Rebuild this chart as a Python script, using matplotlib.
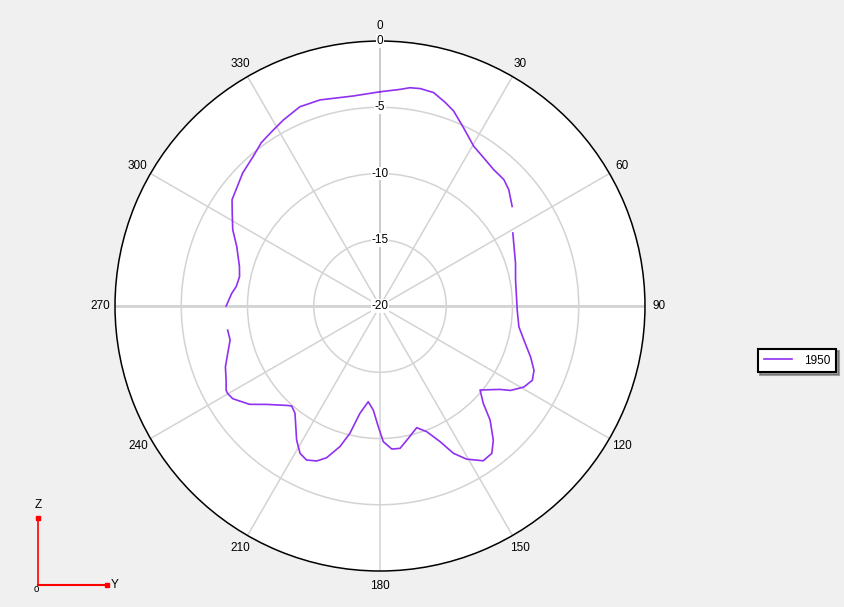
import numpy as np
import matplotlib
matplotlib.use("Agg")
import matplotlib.pyplot as plt
from matplotlib.lines import Line2D

plt.rcParams['font.family'] = ['Liberation Sans', 'DejaVu Sans']

# radiation pattern (angle in deg, gain in dB)
# nan = gaps where the original trace is broken
angles_deg = [0, 5.3, 7.8, 10.5, 14.1, 17.8, 20.7, 25.1, 30.4, 35, 39.8,
              44.4, 47.9, 53, 57, 61.2, 72.4, 79.1, 91.7, 98.5, 103.3, 108.7,
              112.7, 116, 119.4, 122.9, 124.8, 130, 133.3, 136, 139.8, 142.8,
              146.3, 150.5, 153.5, 156.1, 159.6, 163.2, 167.9, 172, 175.3,
              178.6, 180.8, 183.7, 187, 190.6, 193.3, 195.9, 199.4, 202.2,
              205.5, 208.5, 211.9, 218.4, 221.4, 222.8, 229, 233, 237.8,
              240.1, 241.3, 244.2, 248.5, 252.7, 257.2, 261, 266, 270, 274.9,
              277.7, 281.8, 285.7, 292.5, 297.4, 302.2, 305.7, 314.1, 319.7,
              324, 327.5, 332.5, 338.1, 343.8, 352.8, 360]
gain_db = [-3.83, -3.58, -3.37, -3.31, -3.39, -3.87, -4.27, -5.14, -6.02,
           -6.35, -6.6, -6.64, -6.9, -7.51, np.nan, -8.56, -9.27, -9.58,
           -9.64, -9.4, -8.84, -8.0, -7.4, -7.21, -7.54, -8.27, -8.97, -10.14,
           -9.29, -8.04, -6.75, -6.04, -5.96, -6.72, -7.58, -8.8, -9.88,
           -10.41, -9.79, -9.15, -9.17, -9.76, -10.89, -12.13, -12.72, -11.76,
           -10.13, -8.97, -7.86, -7.37, -7.12, -7.35, -8.09, -9.67, -9.93,
           -9.77, -8.68, -7.67, -6.87, -6.74, -6.76, -7.1, -7.46, -7.96, -8.4,
           -8.36, np.nan, -8.39, -8.77, -9.05, -9.17, -8.98, -8.3, -7.48,
           -6.82, -6.25, -5.57, -5.2, -4.76, -4.55, -4.18, -3.79, -3.8, -4.02,
           -3.83]
series_name = "1950"

r_ticks = [0, -5, -10, -15, -20]
theta_ticks = list(range(0, 360, 30))

bg = "#f0f0f0"
grid_col = "#d3d3d3"

fig = plt.figure(figsize=(8.45, 6.07), dpi=100, facecolor=bg)
ax = fig.add_axes([0.1361, 0.0593, 0.6272, 0.8731], projection="polar")
ax.set_facecolor("white")
ax.set_theta_zero_location("N")
ax.set_theta_direction(-1)
ax.set_ylim(-20, 0)

ax.set_xticks(np.deg2rad(theta_ticks))
ax.set_xticklabels([])
ax.set_yticks([-15, -10, -5])
ax.set_yticklabels([])
ax.grid(True, color=grid_col, lw=1.1)
ax.spines["polar"].set_color("black")
ax.spines["polar"].set_linewidth(1.1)

# thicker horizontal axis, darker radial axis on top
ax.plot(np.deg2rad([90, 90]), [-20, 0], color=grid_col, lw=2, zorder=1)
ax.plot(np.deg2rad([270, 270]), [-20, 0], color=grid_col, lw=2, zorder=1)
ax.plot([0, 0], [-20, 0], color="#a0a0a0", lw=1.1, zorder=1)

ax.plot(np.deg2rad(angles_deg), gain_db, color="#9030f0", lw=1.2,
        label=series_name, zorder=3)

for t in theta_ticks:
    ax.text(np.deg2rad(t), 1.1, str(t), ha="center", va="center",
            fontsize=8.5, clip_on=False)

for r in r_ticks:
    ax.text(0, r, str(r), ha="center", va="center", fontsize=8.5, zorder=4,
            bbox=dict(facecolor="white", edgecolor="none", pad=0.6))

leg = fig.legend(loc="center", bbox_to_anchor=(0.943, 0.406), fontsize=8.5,
                 fancybox=False, shadow=True, handlelength=2.4,
                 borderpad=0.5, handletextpad=1.0, framealpha=1)
leg.get_frame().set_edgecolor("black")
leg.get_frame().set_linewidth(1.5)

# axis triad at bottom left
x0, y0 = 38 / 845, 1 - 585 / 607
fig.add_artist(Line2D([x0, x0], [y0, 1 - 518 / 607], color="red", lw=1.2,
                      marker="s", markersize=2.5, markevery=[1]))
fig.add_artist(Line2D([x0, 107 / 845], [y0, y0], color="red", lw=1.5,
                      marker="s", markersize=2.5, markevery=[1]))
fig.text(x0, 1 - 505 / 607, "Z", ha="center", va="center", fontsize=8.5)
fig.text(115 / 845, y0, "Y", ha="center", va="center", fontsize=8.5)
fig.text(36 / 845, 1 - 589 / 607, "o", ha="center", va="center", fontsize=7)

fig.savefig("out.png", dpi=100, facecolor=bg)
